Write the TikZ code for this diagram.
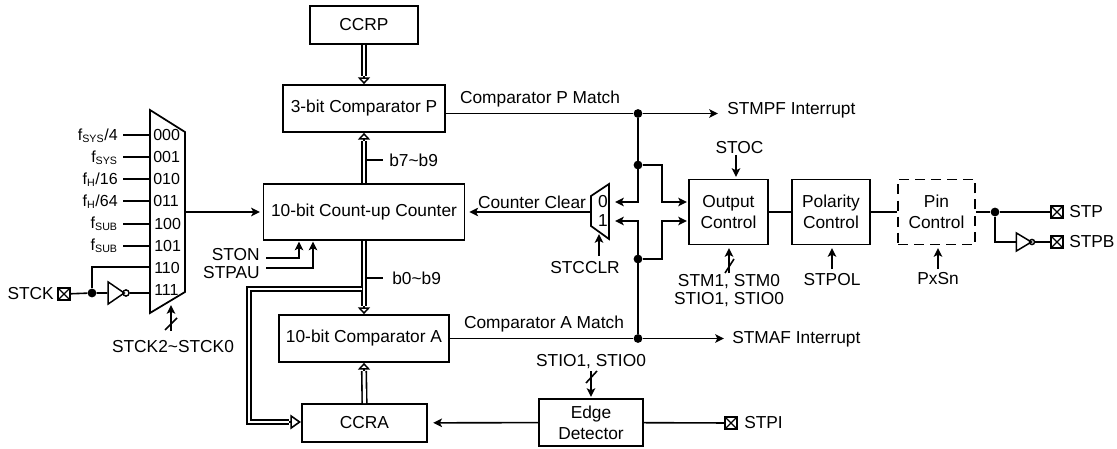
\documentclass[tikz,border=0pt]{standalone}
\usepackage{fontspec}
\setmainfont{Liberation Sans}
\usetikzlibrary{arrows.meta,shapes.geometric}
\def\px{0.75pt}
\begin{document}
\begin{tikzpicture}[
    x=\px,y=-\px,
    font=\fontsize{13pt}{15.8pt}\selectfont,
    >={Stealth[length=6.6pt,width=6.4pt,inset=1.6pt]},
    blocco/.style={draw,line width=1.3pt,align=center,inner sep=0pt},
    filo/.style={line width=1.2pt},
    bus/.style={line width=1.2pt,double,double distance=2.2pt},
    testa/.style={line width=1.1pt,-{Triangle[open,length=5pt,width=9pt,fill=white]}},
    testona/.style={line width=1.2pt,-{Triangle[open,length=8pt,width=11pt,fill=white]}},
    punto/.style={circle,fill=black,inner sep=0pt,minimum size=6.6pt},
    pad/.style={draw,line width=1.4pt,inner sep=0pt,minimum size=8.4pt,
      path picture={\draw[line width=1pt] (path picture bounding box.north west) -- (path picture bounding box.south east)
        (path picture bounding box.north east) -- (path picture bounding box.south west);}},
    invert/.style={draw,line width=1.1pt,isosceles triangle,isosceles triangle stretches,inner sep=0pt},
    bolla/.style={draw,line width=1.1pt,circle,inner sep=0pt,minimum size=4.6pt},
    sel/.style={inner sep=0pt},
    minu/.style={inner sep=0pt,font=\fontsize{12pt}{14pt}\selectfont}]

  \useasboundingbox (0,0) rectangle (1117,449);

  % blocchi
  \node[blocco,minimum width=108*\px,minimum height=38*\px] (ccrp) at (364,25) {CCRP};
  \node[blocco,minimum width=162*\px,minimum height=47*\px] (cmpp) at (364,108.5) {3-bit Comparator P};
  \node[blocco,minimum width=201*\px,minimum height=56*\px] (cnt)  at (364,212) {10-bit Count-up Counter};
  \node[blocco,minimum width=170*\px,minimum height=47*\px] (cmpa) at (364,338.5) {10-bit Comparator A};
  \node[blocco,minimum width=125*\px,minimum height=38*\px] (ccra) at (364.5,423) {CCRA};
  \node[blocco,minimum width=104*\px,minimum height=47*\px] (edge) at (591,422.5) {Edge\\Detector};
  \node[blocco,minimum width=79*\px,minimum height=65*\px]  (outc) at (728.5,212) {Output\\Control};
  \node[blocco,minimum width=78*\px,minimum height=65*\px]  (polc) at (831,212) {Polarity\\Control};
  \node[blocco,dash pattern=on 7.5pt off 4.5pt,minimum width=77*\px,minimum height=65*\px] (pinc) at (936.5,212) {Pin\\Control};

  % mux di clock
  \draw[line width=1.3pt] (150,110) -- (185,132) -- (185,292) -- (150,313) -- cycle;
  \node[minu,anchor=west] (s0) at (153,135) {000};
  \node[minu,anchor=west] (s1) at (153,157) {001};
  \node[minu,anchor=west] (s2) at (153,179) {010};
  \node[minu,anchor=west] (s3) at (153,201) {011};
  \node[minu,anchor=west] (s4) at (154,224) {100};
  \node[minu,anchor=west] (s5) at (154,246) {101};
  \node[minu,anchor=west] (s6) at (154,268) {110};
  \node[minu,anchor=west] (s7) at (154,290) {111};

  \node[minu,anchor=east] (f0) at (118,136) {f\textsubscript{SYS}/4};
  \node[minu,anchor=east] (f1) at (118,158) {f\textsubscript{SYS}};
  \node[minu,anchor=east] (f2) at (118,180) {f\textsubscript{H}/16};
  \node[minu,anchor=east] (f3) at (118,202) {f\textsubscript{H}/64};
  \node[minu,anchor=east] (f4) at (118,224) {f\textsubscript{SUB}};
  \node[minu,anchor=east] (f5) at (118,246) {f\textsubscript{SUB}};
  \coordinate (i0) at (150,135);
  \coordinate (i1) at (150,157);
  \coordinate (i2) at (150,179);
  \coordinate (i3) at (150,201);
  \coordinate (i4) at (150,224);
  \coordinate (i5) at (150,246);
  \coordinate (i6) at (150,267);
  \coordinate (i7) at (150,293);
  \coordinate (mout) at (185,212);
  \draw[filo] (123,135) -- (i0);
  \draw[filo] (123,157) -- (i1);
  \draw[filo] (123,179) -- (i2);
  \draw[filo] (123,201) -- (i3);
  \draw[filo] (123,224) -- (i4);
  \draw[filo] (123,246) -- (i5);
  \draw[filo,->,shorten >=2pt] (mout) -- (cnt.west);

  % ingresso STCK
  \node[pad] (ckp) at (64,294) {};
  \node[sel,anchor=east] (ckl) at (54,294) {STCK};
  \node[punto] (ckd) at (92,293) {};
  \node[invert,minimum width=22*\px,minimum height=16*\px] (ckn) at (114,293) {};
  \node[bolla] (ckb) at (126,293) {};
  \draw[filo] (ckp) -- (ckd) -- (ckn.west);
  \draw[filo] (ckb) -- (i7);
  \draw[filo] (ckd) |- (i6);

  \node[sel] (sck) at (173,347) {STCK2\textasciitilde STCK0};
  \coordinate (sckt) at (171,305);
  \draw[filo,->] (171,331) -- (sckt);
  \draw[filo] (165,330) -- (177,318);

  % ingressi del contatore
  \node[sel,anchor=east] (ston) at (260,255) {STON};
  \node[sel,anchor=east] (stpa) at (260,273) {STPAU};
  \coordinate (cnt1) at (299,241.5);
  \coordinate (cnt2) at (313,241.5);
  \draw[filo,->] (266,258) -| (cnt1);
  \draw[filo,->] (266,268) -| (cnt2);

  % bus
  \coordinate (ja) at (362,289);
  \coordinate (jb) at (249,289);
  \coordinate (jc) at (249,422);
  \coordinate (ccrat) at (289,422);
  \draw[bus] (ja) -- (jb) -- (jc) -- (ccrat);
  \draw[testona] (ccrat) -- (301,422);
  \draw[bus] (ccrp.south) -- (364,76);
  \draw[testa] (364,76) -- (cmpp.north);
  \draw[bus] (cnt.north) -- (364,141);
  \draw[testa] (364,141) -- (cmpp.south);
  \draw[bus] (cnt.south) -- (364,306);
  \draw[testa] (364,306) -- (cmpa.north);
  \draw[bus] (ccra.north) -- (364,371);
  \draw[testa] (364,371) -- (cmpa.south);
  \draw[white,line width=2.2pt] (ja) -- (358,289);

  \node[sel,anchor=west] (b79) at (389,160) {b7\textasciitilde b9};
  \node[sel,anchor=west] (b09) at (392,278) {b0\textasciitilde b9};
  \draw[filo] (367,160) -- (383,160);
  \draw[filo] (367,278) -- (383,278);

  % match
  \node[sel,anchor=west] (stmp) at (727,110) {STMPF Interrupt};
  \node[sel,anchor=west] (stma) at (732,339) {STMAF Interrupt};
  \node[sel] (mchp) at (540,99) {Comparator P Match};
  \node[sel] (mcha) at (544,324) {Comparator A Match};
  \coordinate (cmpr) at (445,113.5);
  \coordinate (stmpt) at (718,113.5);
  \coordinate (stmat) at (724,338.5);
  \node[punto] (pj) at (638,113.5) {};
  \node[punto] (aj) at (638,338.5) {};
  \node[punto] (j1) at (638,165) {};
  \node[punto] (j2) at (638,259) {};
  \draw[filo,->] (cmpr) -- (pj) -- (stmpt);
  \draw[filo,->] (cmpa.east) -- (aj) -- (stmat);

  % mux del clear
  \draw[line width=1.3pt] (591,196) -- (609,184) -- (609,239) -- (591,226) -- cycle;
  \node[sel] (m0) at (603,202) {0};
  \node[sel] (m1) at (603,221) {1};
  \coordinate (c0) at (615,202);
  \coordinate (c1) at (615,221);
  \coordinate (x0) at (638,202);
  \coordinate (x1) at (638,221);
  \coordinate (y0) at (662,202);
  \coordinate (y1) at (662,221);
  \coordinate (o0) at (687,202);
  \coordinate (o1) at (687,221);
  \coordinate (cmo) at (591,212);
  \draw[filo,->] (pj) -- (x0) -- (c0);
  \draw[filo,->] (aj) -- (x1) -- (c1);
  \draw[filo,->] (j1) -| (y0) -- (o0);
  \draw[filo,->] (j2) -| (y1) -- (o1);
  \draw[filo,->,shorten >=3pt] (cmo) -- (cnt.east);
  \node[sel] (cclr) at (532,202) {Counter Clear};
  \node[sel] (clr) at (585,268) {STCCLR};
  \draw[filo,->] (599,256) -- (599,234);

  % controlli
  \node[sel] (stoc) at (739.5,148) {STOC};
  \draw[filo,->] (736,155) -- (736,177);
  \node[sel] (stm) at (729,282) {STM1, STM0};
  \node[sel] (sti) at (729,300) {STIO1, STIO0};
  \draw[filo,->] (729,273) -- (729,248);
  \draw[filo] (725,273) -- (734,259);
  \node[sel] (pol) at (832,280) {STPOL};
  \draw[filo,->] (832,269) -- (832,248);
  \node[sel] (pxs) at (938,279) {PxSn};
  \draw[filo,->] (938,269) -- (938,248);

  % uscite
  \node[pad] (stpp) at (1057,212) {};
  \node[pad] (stbp) at (1057,242) {};
  \node[sel,anchor=west] (stpl) at (1069,212) {STP};
  \node[sel,anchor=west] (stbl) at (1069,242) {STPB};
  \node[punto] (oj) at (995,212) {};
  \node[invert,minimum width=18*\px,minimum height=15*\px] (stn) at (1021.5,242) {};
  \node[bolla,minimum size=3.8pt] (stb) at (1032,242) {};
  \draw[filo] (outc) -- (polc);
  \draw[filo] (polc) -- (pinc);
  \draw[filo] (pinc) -- (oj) -- (stpp);
  \draw[filo] (oj) |- (stn.west);
  \draw[filo] (stb) -- (stbp);

  % rilevatore di fronte
  \node[pad] (stip) at (731,423) {};
  \node[sel,anchor=west] (stil) at (744,423) {STPI};
  \node[sel] (stie) at (591,362) {STIO1, STIO0};
  \draw[filo] (stip) -- (edge);
  \draw[filo,->,shorten >=4pt] (edge) -- (ccra);
  \draw[filo,->] (591,371) -- (591,397);
  \draw[filo] (586,383) -- (597,371);

\end{tikzpicture}
\end{document}
